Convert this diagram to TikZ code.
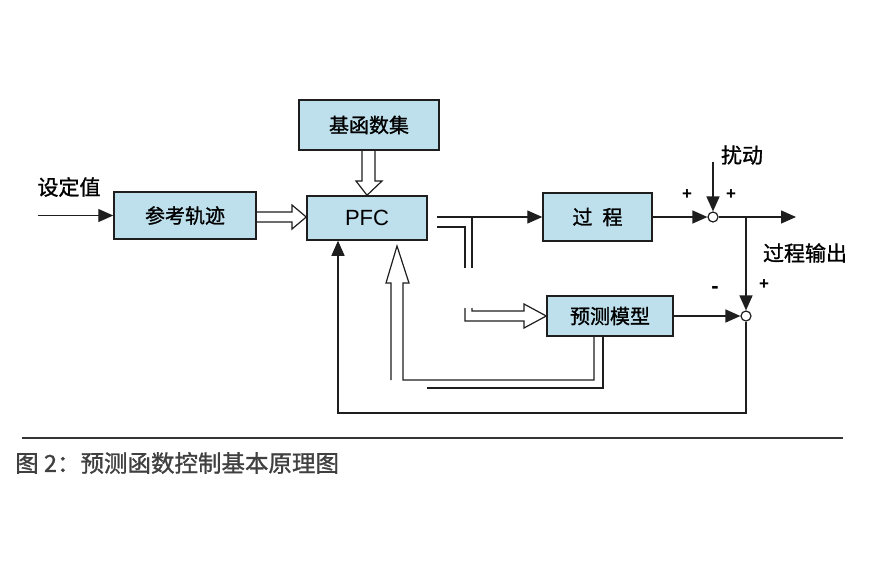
\documentclass[tikz,border=0pt]{standalone}
\usepackage{fontspec}
\setmainfont{Liberation Sans}
\newfontfamily\cjk{Noto Sans CJK SC}[FakeBold=1.2,AutoFakeBold=1.2]
\usetikzlibrary{arrows.meta}
\definecolor{boxfill}{HTML}{BEE0EC}
\definecolor{ink}{HTML}{1E1E1E}
\begin{document}
\begin{tikzpicture}[x=1pt,y=-1pt,
  box/.style={draw=ink,line width=1.5pt,fill=boxfill,inner sep=0pt,font=\cjk\bfseries\fontsize{20}{20}\selectfont},
  arr/.style={draw=ink,line width=1.3pt,-{Triangle[length=15pt,width=13pt]}},
  ln/.style={draw=ink,line width=1.3pt},
  dbl/.style={draw=ink,line width=1.2pt,line join=miter},
  sumc/.style={circle,draw=ink,line width=1.2pt,fill=white,minimum size=10pt,inner sep=0pt},
  lbl/.style={font=\cjk\bfseries\fontsize{21}{21}\selectfont,inner sep=0pt},
  sgn/.style={font=\fontsize{17}{17}\selectfont\bfseries,inner sep=0pt}]
\useasboundingbox[fill=white] (0,0) rectangle (869,579);

% blocks
\node[box,minimum width=140pt,minimum height=50pt] (jhs) at (369,125) {基函数集};
\node[box,minimum width=120pt,minimum height=44pt,font=\fontsize{22}{22}\selectfont] (pfc) at (367,218) {PFC};
\node[box,minimum width=142pt,minimum height=47pt] (ref) at (185,215.5) {参考轨迹};
\node[box,minimum width=109pt,minimum height=48pt] (proc) at (597.5,217) {过\hspace{0.5em}程};
\node[box,minimum width=126pt,minimum height=40pt] (pm) at (610,316) {预测模型};

% summing junctions
\node[sumc] (s1) at (713,217) {};
\node[sumc] (s2) at (746,316) {};

% labels
\node[lbl] (setv) at (69,187) {设定值};
\node[lbl] (dist) at (742,155) {扰动};
\node[lbl] (outl) at (805,253) {过程输出};
\node[sgn] (p1) at (687,195) {+};
\node[sgn] (p2) at (731,195) {+};
\node[sgn] (p3) at (764,285) {+};
\node[sgn,font=\fontsize{22}{22}\selectfont\bfseries] (m1) at (715,290) {-};

% coordinates
\coordinate (in) at (38,215.5);
\coordinate (pfcout) at (437,217);
\coordinate (dtop) at (713,162);
\coordinate (outend) at (796,217);
\coordinate (br) at (746,217);
\coordinate (fb) at (338,413);

% single-line connectors
\draw[arr] (in) -- (ref.west);
\draw[arr] (pfcout) -- (proc.west);
\draw[arr] (proc.east) -- (s1.west);
\draw[arr] (dtop) -- (s1.north);
\draw[arr] (s1.east) -- (outend);
\draw[arr] (br) -- (s2.north);
\draw[arr] (pm.east) -- (s2.west);
\draw[arr] (s2.south) |- (fb) -- (fb |- pfc.south);

% hollow double arrows
\draw[dbl] (ref.east |- 0,212) -- (292,212) -- (292,205) -- (pfc.west |- 0,217) -- (292,229) -- (292,222) -- (ref.east |- 0,222);
\draw[dbl] (362,0 |- jhs.south) -- (362,181) -- (356,181) -- (pfc.north) -- (382,181) -- (375,181) -- (375,0 |- jhs.south);

% double line from PFC towards prediction model
\draw[dbl] (pfcout) -- (472,217) -- (472,268);
\draw[dbl] (437,227) -- (465,227) -- (465,268);
\draw[dbl] (472,308) -- (472,311) -- (524,311) -- (524,304) -- (pm.west) -- (524,328) -- (524,321) -- (465,321) -- (465,308);

% double line from prediction model back to PFC
\draw[dbl] (594,0 |- pm.south) -- (594,380) -- (403,380) -- (403,283) -- (409,283) -- (397,246) -- (386,283) -- (391,283) -- (391,380);
\draw[dbl] (603,0 |- pm.south) -- (603,388) -- (427,388);

% rule and caption
\draw[draw=ink!90,line width=2pt] (22,438) -- (843,438);
\node[anchor=west,inner sep=0pt,font=\cjk\bfseries\fontsize{23.5}{23.5}\selectfont,text=ink!85] (cap) at (15,463) {图 2：预测函数控制基本原理图};
\end{tikzpicture}
\end{document}
